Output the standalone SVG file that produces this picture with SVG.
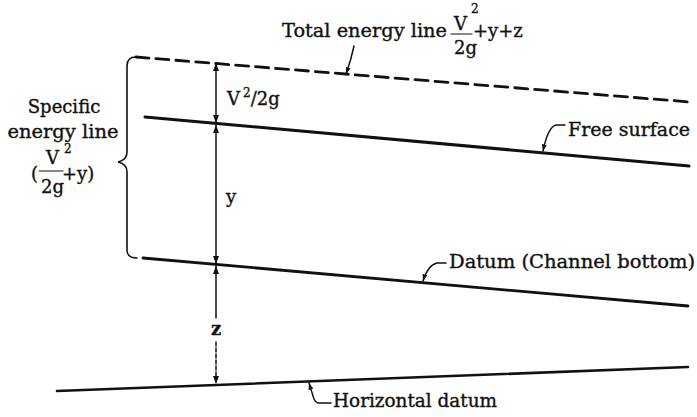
<svg xmlns="http://www.w3.org/2000/svg" width="697" height="417" viewBox="0 0 697 417">
<defs>
<style>
text{font-family:"DejaVu Serif","Liberation Serif",serif;font-size:18px;fill:#111;stroke:#111;stroke-width:0.35}
.sup{font-size:12px}
.ln{stroke:#111;fill:none;stroke-linecap:round}
.main{stroke-width:2.8}
.dim{stroke-width:1.5}
.lead{stroke-width:1.5}
</style>
<marker id="ah" viewBox="0 0 8 6" refX="8" refY="3" markerWidth="8" markerHeight="6" markerUnits="userSpaceOnUse" orient="auto-start-reverse">
<path d="M0,0 L8,3 L0,6 z" fill="#111"/>
</marker>
<marker id="sh" viewBox="0 0 8 6" refX="8" refY="3" markerWidth="7" markerHeight="5" markerUnits="userSpaceOnUse" orient="auto">
<path d="M0,0 L8,3 L0,6 z" fill="#111"/>
</marker>
</defs>
<g id="lines">
<path id="total-energy-line" class="ln main" d="M136,57 L690,102" stroke-dasharray="13 7"/>
<path id="free-surface" class="ln" stroke-width="3" d="M145,117 L689,166"/>
<path id="channel-bottom" class="ln main" d="M143,258 L688,306"/>
<path id="horizontal-datum" class="ln" stroke-width="2.6" d="M57,391 L688,367"/>
<path id="brace" class="ln" stroke-width="1.6" d="M136,57 Q127,57 127,66 L127,152 Q127,160 118,162 Q127,164 127,172 L127,250 Q127,258 137,258"/>
</g>
<g id="connectors">
<line class="ln dim" x1="216" y1="63" x2="216" y2="123" marker-start="url(#ah)" marker-end="url(#ah)"/>
<line class="ln dim" x1="216" y1="125" x2="216" y2="264" marker-start="url(#ah)" marker-end="url(#ah)"/>
<line class="ln dim" x1="216" y1="266" x2="216" y2="318" marker-start="url(#ah)"/>
<line class="ln dim" x1="216" y1="342" x2="216" y2="384" stroke-dasharray="4 2" marker-end="url(#ah)"/>
<path class="ln lead" d="M354,46 Q351,60 346,74" marker-end="url(#sh)"/>
<path class="ln lead" d="M565,125 L556,125 Q548,127 543,151" marker-end="url(#sh)"/>
<path class="ln lead" d="M446,263 L437,263 Q428,265 423,281" marker-end="url(#sh)"/>
<path class="ln lead" d="M331,403 L319,403 Q316,403 314,399 L309,383" marker-end="url(#sh)"/>
</g>
<g id="label-total">
<text x="282" y="37" font-size="19" textLength="165" lengthAdjust="spacingAndGlyphs">Total energy line</text>
<text x="454" y="30">V</text>
<text class="sup" x="471" y="13">2</text>
<line class="ln" stroke-width="1" x1="451" y1="34" x2="472" y2="34"/>
<text x="454" y="54">2g</text>
<text x="473" y="37">+y+z</text>
</g>
<g id="label-specific">
<text x="64" y="113" text-anchor="middle">Specific</text>
<text x="63" y="138" text-anchor="middle" textLength="111" lengthAdjust="spacingAndGlyphs">energy line</text>
<text x="31" y="180">(</text>
<text x="46" y="164">V</text>
<text class="sup" x="64" y="153">2</text>
<line class="ln" stroke-width="1" x1="39" y1="171" x2="63" y2="171"/>
<text x="41" y="193">2g</text>
<text x="62" y="180">+y)</text>
</g>
<g id="label-v2g"><text x="227" y="105">V<tspan class="sup" dx="3" dy="-8">2</tspan><tspan dy="8">/2g</tspan></text></g>
<g id="label-y"><text x="226" y="203">y</text></g>
<g id="label-z"><text x="216" y="335" text-anchor="middle" font-weight="bold" font-size="15">z</text></g>
<g id="label-free"><text x="568" y="136" textLength="122" lengthAdjust="spacingAndGlyphs">Free surface</text></g>
<g id="label-datum"><text x="449" y="268" textLength="246" lengthAdjust="spacingAndGlyphs">Datum (Channel bottom)</text></g>
<g id="label-hdatum"><text x="333" y="407" textLength="164" lengthAdjust="spacingAndGlyphs">Horizontal datum</text></g>
</svg>
